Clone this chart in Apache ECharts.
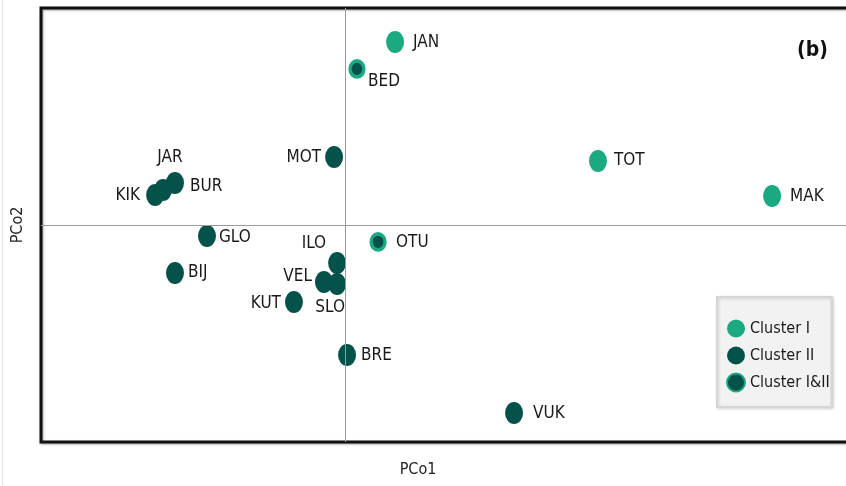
<!DOCTYPE html>
<html>
<head>
<meta charset="utf-8">
<script src="https://cdn.jsdelivr.net/npm/echarts@6/dist/echarts.min.js"></script>
<style>
  html, body { margin: 0; padding: 0; background: #fff; }
  #chart { width: 846px; height: 486px; }
</style>
</head>
<body>
<div id="chart"></div>
<script>
// Principal coordinates ordination: site scores on PCo1 / PCo2
const clusterI = ['JAN', 'TOT', 'MAK'];
const clusterIx = [0.247, 1.248, 2.107];
const clusterIy = [0.843, 0.295, 0.134];

const clusterII = ['MOT', 'KIK', 'JAR', 'BUR', 'GLO', 'BIJ', 'ILO', 'VEL', 'SLO', 'KUT', 'BRE', 'VUK'];
const clusterIIx = [-0.054, -0.937, -0.898, -0.839, -0.681, -0.839, -0.039, -0.104, -0.039, -0.252, 0.010, 0.834];
const clusterIIy = [0.313, 0.138, 0.161, 0.194, -0.051, -0.221, -0.175, -0.263, -0.272, -0.355, -0.599, -0.866];

const clusterBoth = ['BED', 'OTU'];
const clusterBothx = [0.059, 0.163];
const clusterBothy = [0.719, -0.078];

const seriesNames = ['Cluster I', 'Cluster II', 'Cluster I&II'];
const axisNames = ['PCo1', 'PCo2'];

// Label placement around each marker: [align, dx, dy]
const labelPlace = {
  JAN: ['left', 18, 1], BED: ['left', 11, 13], MOT: ['right', -13, 0],
  TOT: ['left', 16, 0], MAK: ['left', 18, 1], JAR: ['center', 7, -32],
  BUR: ['left', 15, 4], KIK: ['right', -15, 1], GLO: ['left', 12, 2],
  BIJ: ['left', 13, 0], ILO: ['right', -11, -19], VEL: ['right', -12, -5],
  SLO: ['center', -7, 24], KUT: ['right', -13, 2], OTU: ['left', 18, 1],
  BRE: ['left', 14, 1], VUK: ['left', 19, 1]
};

const LIGHT = '#1aa981';
const DARK = '#05524a';
const FONT = '"Liberation Sans Narrow", "DejaVu Sans Condensed", "Noto Sans", sans-serif';
const ELLIPSE = 'path://M0,10 A10,10 0 1,1 20,10 A10,10 0 1,1 0,10 Z';

function points(names, xs, ys) {
  return names.map((n, i) => {
    const p = labelPlace[n];
    return {
      name: n,
      value: [xs[i], ys[i]],
      label: { align: p[0], offset: [p[1], p[2]] }
    };
  });
}

const labelBase = {
  show: true,
  position: 'inside',
  verticalAlign: 'middle',
  formatter: '{b}',
  color: '#1a1a1a',
  fontFamily: FONT,
  fontSize: 17
};

const chart = echarts.init(document.getElementById('chart'), null, { renderer: 'canvas' });

chart.setOption({
  animation: false,
  backgroundColor: '#fff',
  grid: {
    left: 41, top: 8, width: 831, height: 434,
    outerBoundsMode: 'none', containLabel: false,
    show: true, borderColor: '#111', borderWidth: 3,
    shadowColor: 'rgba(0,0,0,0.35)', shadowBlur: 2, shadowOffsetX: 1, shadowOffsetY: 1
  },
  xAxis: {
    type: 'value', min: -1.5, max: 2.6,
    axisLine: { show: false }, axisTick: { show: false }, axisLabel: { show: false },
    splitLine: { show: false }
  },
  yAxis: {
    type: 'value', min: -1, max: 1,
    axisLine: { show: false }, axisTick: { show: false }, axisLabel: { show: false },
    splitLine: { show: false }
  },
  legend: {
    orient: 'vertical',
    left: 717, top: 297,
    padding: [21, 2, 14, 9],
    itemGap: 6,
    itemWidth: 18, itemHeight: 22,
    backgroundColor: '#f2f2f2',
    borderColor: '#d6d6d6', borderWidth: 2,
    shadowColor: 'rgba(0,0,0,0.15)', shadowBlur: 3, shadowOffsetX: 1, shadowOffsetY: 1,
    textStyle: { fontFamily: FONT, fontSize: 16, color: '#1a1a1a', height: 21, lineHeight: 21 },
    data: seriesNames
  },
  graphic: [
    {
      type: 'text', left: 797, top: 40,
      style: { text: '(b)', fontFamily: FONT, fontWeight: 'bold', fontSize: 21, fill: '#111' }
    },
    {
      type: 'text', x: 418, y: 470,
      style: { text: axisNames[0], fontFamily: FONT, fontSize: 16, fill: '#222', align: 'center', verticalAlign: 'middle' }
    },
    {
      type: 'text', x: 18, y: 225, rotation: Math.PI / 2,
      style: { text: axisNames[1], fontFamily: FONT, fontSize: 16, fill: '#222', align: 'center', verticalAlign: 'middle' }
    },
    {
      type: 'line', shape: { x1: 2.5, y1: 0, x2: 2.5, y2: 486 },
      style: { stroke: '#e2e2e2', lineWidth: 1 }
    }
  ],
  series: [
    {
      name: 'axes0', type: 'scatter', data: [], silent: true,
      markLine: {
        silent: true, symbol: 'none', label: { show: false },
        lineStyle: { color: '#9a9a9a', width: 1, type: 'solid' },
        data: [{ xAxis: 0 }, { yAxis: 0 }]
      }
    },
    {
      name: seriesNames[0], type: 'scatter',
      symbol: ELLIPSE, symbolSize: [18, 22],
      itemStyle: { color: LIGHT, opacity: 1 },
      label: labelBase,
      data: points(clusterI, clusterIx, clusterIy)
    },
    {
      name: seriesNames[1], type: 'scatter',
      symbol: ELLIPSE, symbolSize: [18, 22],
      itemStyle: { color: DARK, opacity: 1 },
      label: labelBase,
      data: points(clusterII, clusterIIx, clusterIIy)
    },
    {
      name: seriesNames[2], type: 'scatter',
      symbol: ELLIPSE, symbolSize: [14, 16],
      itemStyle: { color: DARK, borderColor: LIGHT, borderWidth: 3.5, opacity: 1 },
      label: labelBase,
      data: points(clusterBoth, clusterBothx, clusterBothy)
    }
  ]
});
</script>
</body>
</html>
